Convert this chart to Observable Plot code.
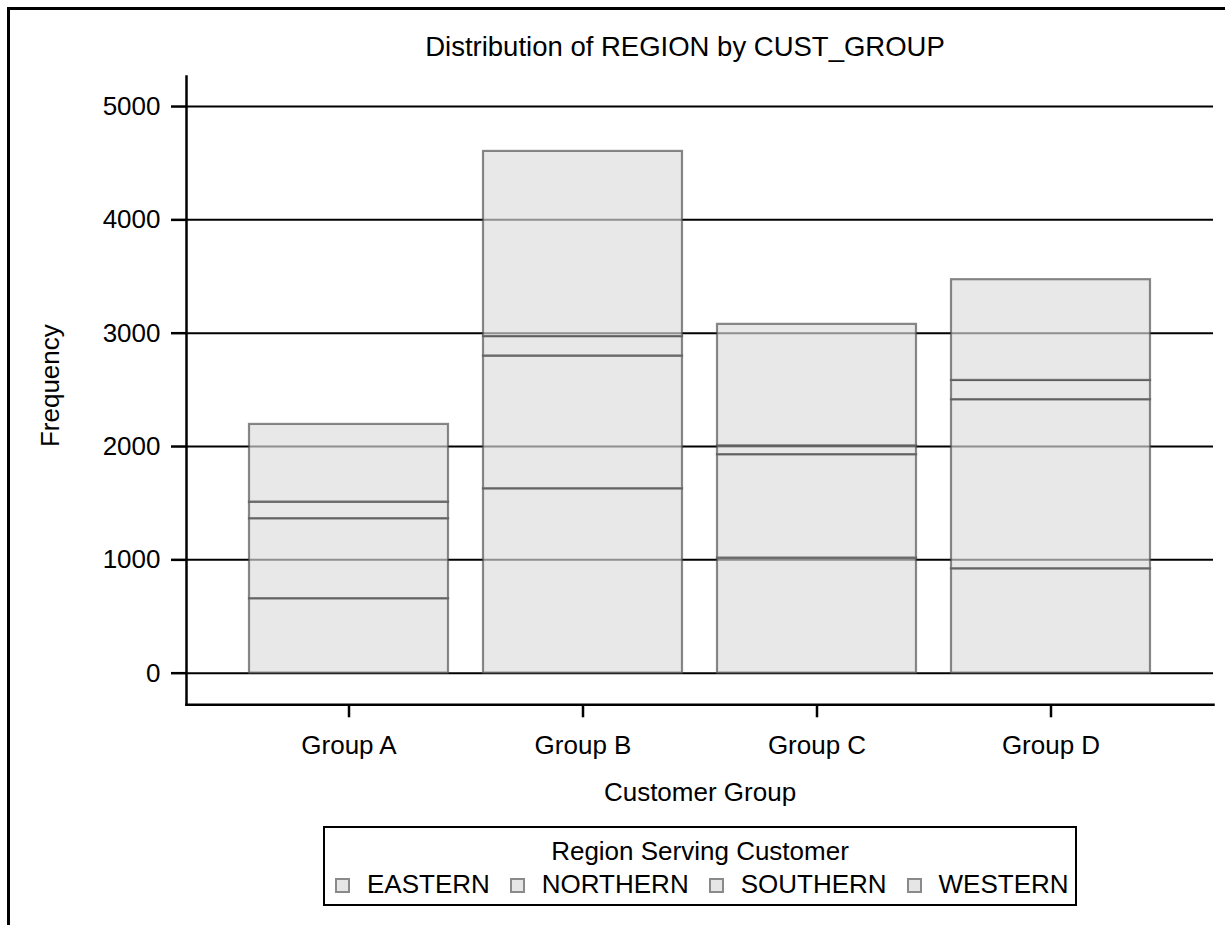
<!DOCTYPE html>
<html>
<head>
<meta charset="utf-8">
<script src="https://cdn.jsdelivr.net/npm/d3@7"></script>
<script src="https://cdn.jsdelivr.net/npm/@observablehq/plot@0.6"></script>
<style>
  html, body { margin: 0; padding: 0; background: #fff; overflow: hidden; }
  body { width: 1225px; height: 925px; position: relative; font-family: "Liberation Sans", Arial, sans-serif; color: #000; }
  #border { position: absolute; left: 7px; top: 7px; width: 1300px; height: 1000px; border-top: 3px solid #000; border-left: 3px solid #000; pointer-events: none; }
  #title { position: absolute; left: 285px; top: 29px; width: 800px; text-align: center; font-size: 27.5px; line-height: 36px; }
  #chart { position: absolute; left: 0; top: 60px; }
  #legend { position: absolute; left: 323px; top: 826px; width: 754px; height: 80px; box-sizing: border-box; border: 2px solid #000; text-align: center; font-size: 26px; background: #fff; }
  #legend .ltitle { margin-top: 8px; line-height: 30px; }
  #legend .items { margin-top: 3px; line-height: 30px; white-space: nowrap; }
  #legend .item { display: inline-block; margin: 0 10px; }
  #legend .sw { display: inline-block; width: 11px; height: 11px; border: 2px solid #8a8a8a; background: #e6e6e6; margin-right: 17px; vertical-align: 0px; }
</style>
</head>
<body>
<div id="title">Distribution of REGION by CUST_GROUP</div>
<div id="chart"></div>
<div id="legend"><div class="ltitle">Region Serving Customer</div><div class="items"></div></div>
<div id="border"></div>
<script>
const groups = ["Group A", "Group B", "Group C", "Group D"];
const regions = ["EASTERN", "NORTHERN", "SOUTHERN", "WESTERN"];
const eastern  = [657, 1627, 1015, 921];
const northern = [706, 1171, 913, 1492];
const southern = [146, 172, 77, 170];
const western  = [686, 1634, 1073, 889];
const yTicks = [0, 1000, 2000, 3000, 4000, 5000];
const yDomain = [-279, 5265];

const seriesValues = [eastern, northern, southern, western];
const data = [];
regions.forEach((r, ri) => {
  groups.forEach((g, gi) => data.push({group: g, region: r, value: seriesValues[ri][gi]}));
});

const chart = Plot.plot({
  width: 1225,
  height: 760,
  marginLeft: 186,
  marginRight: 12,
  marginTop: 16,
  marginBottom: 115.7,
  style: {fontFamily: "'Liberation Sans', Arial, sans-serif", fontSize: "26px", color: "#000", background: "transparent"},
  x: {domain: groups, paddingInner: 0.149, paddingOuter: 0.26, label: null},
  y: {domain: yDomain, label: null},
  marks: [
    Plot.gridY(yTicks, {stroke: "#000", strokeOpacity: 1, strokeWidth: 2}),
    Plot.barY(data, Plot.stackY({order: regions, x: "group", y: "value", z: "region",
      fill: "#dcdcdc", fillOpacity: 0.65, stroke: "#4a4a4a", strokeOpacity: 0.65, strokeWidth: 2.2})),
    Plot.axisY(yTicks, {tickSize: 15, tickPadding: 11, tickFormat: d => String(d), label: null, strokeWidth: 2.5, fontSize: 26}),
    Plot.axisX({tickSize: 13, tickPadding: 18, label: null, strokeWidth: 2.5, fontSize: 26}),
    Plot.frame({anchor: "left", stroke: "#000", strokeWidth: 2.5}),
    Plot.frame({anchor: "bottom", stroke: "#000", strokeWidth: 2.5}),
    Plot.text(["Frequency"], {frameAnchor: "left", textAnchor: "middle", rotate: -90, dx: -136, dy: -5, fontSize: 26}),
    Plot.text(["Customer Group"], {frameAnchor: "bottom", dy: 96, fontSize: 26})
  ]
});
document.getElementById("chart").appendChild(chart);

const items = d3.select("#legend .items");
regions.forEach(r => {
  const it = items.append("span").attr("class", "item");
  it.append("span").attr("class", "sw");
  it.append("span").text(r);
});
</script>
</body>
</html>
